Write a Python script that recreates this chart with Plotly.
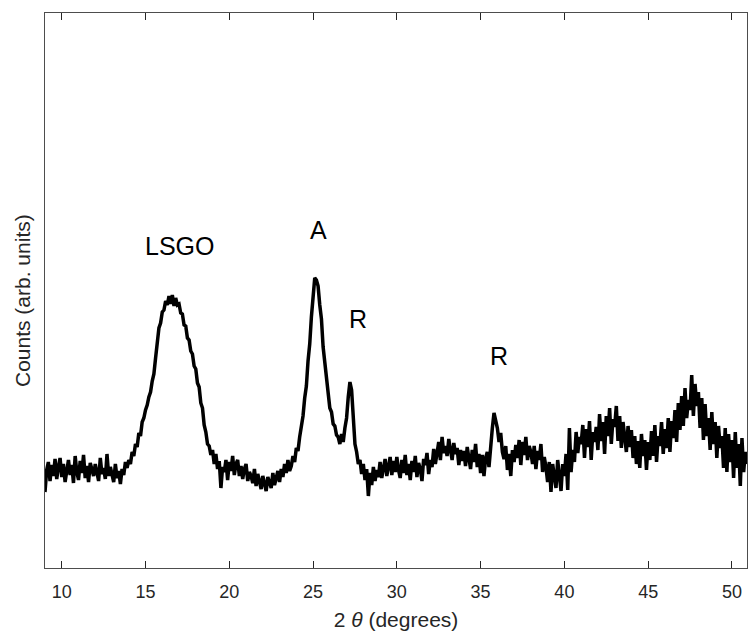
import plotly.graph_objects as go

# 2-theta grid start/step (degrees) and counts (arb. units)
two_theta_start = 9.0
two_theta_step = 0.1
counts = [
    76, 98, 106, 87, 103, 92, 109, 89, 101, 110,        # 9.x
    91, 104, 86, 99, 108, 93, 103, 85, 112, 96,         # 10.x
    88, 107, 95, 113, 90, 102, 86, 105, 98, 92,         # 11.x
    104, 96, 87, 110, 94, 100, 89, 114, 92, 101,        # 12.x
    95, 86, 104, 90, 97, 84, 99, 93, 106, 100,          # 13.x
    108, 104, 116, 112, 124, 121, 135, 132, 146, 150,   # 14.x
    158, 163, 171, 176, 187, 194, 210, 226, 240, 245,   # 15.x
    256, 258, 267, 263, 272, 264, 273, 262, 270, 263,   # 16.x
    264, 255, 254, 243, 242, 230, 228, 217, 214, 202,   # 17.x
    199, 185, 181, 165, 160, 143, 136, 124, 122, 113,   # 18.x
    118, 104, 114, 99, 107, 80, 101, 96, 108, 88,       # 19.x
    106, 97, 112, 93, 104, 108, 92, 102, 89, 99,        # 20.x
    104, 87, 96, 92, 85, 99, 82, 94, 88, 79,            # 21.x
    92, 84, 77, 91, 86, 80, 95, 83, 90, 97,             # 22.x
    86, 99, 91, 104, 95, 108, 97, 102, 112, 106,        # 23.x
    120, 117, 131, 140, 152, 170, 182, 207, 224, 251,   # 24.x
    268, 290, 288, 282, 263, 249, 221, 206, 184, 174,   # 25.x
    160, 156, 144, 142, 133, 131, 124, 134, 126, 140,   # 26.x
    150, 171, 186, 178, 152, 124, 116, 104, 108, 94,    # 27.x
    104, 88, 99, 72, 95, 83, 101, 87, 98, 91,           # 28.x
    106, 90, 100, 109, 92, 104, 111, 93, 107, 96,       # 29.x
    111, 98, 90, 108, 95, 113, 93, 104, 88, 107,        # 30.x
    96, 112, 91, 105, 99, 87, 109, 103, 115, 94,        # 31.x
    108, 101, 119, 104, 116, 126, 108, 131, 115, 122,   # 32.x
    112, 129, 118, 108, 125, 114, 120, 103, 118, 107,   # 33.x
    117, 102, 121, 110, 99, 118, 106, 124, 101, 114,    # 34.x
    95, 113, 92, 110, 116, 101, 126, 140, 155, 146,     # 35.x
    140, 126, 135, 116, 109, 122, 98, 114, 92, 118,     # 36.x
    106, 123, 110, 128, 103, 126, 113, 131, 108, 122,   # 37.x
    116, 104, 122, 99, 117, 108, 124, 96, 111, 101,     # 38.x
    86, 106, 76, 104, 94, 80, 108, 90, 77, 104,         # 39.x
    92, 114, 78, 140, 96, 118, 106, 136, 115, 131,      # 40.x
    124, 143, 110, 139, 121, 147, 108, 136, 126, 141,   # 41.x
    118, 154, 127, 146, 114, 152, 132, 160, 124, 149,   # 42.x
    141, 162, 127, 152, 120, 146, 134, 116, 142, 121,   # 43.x
    138, 110, 132, 104, 127, 100, 134, 112, 128, 98,    # 44.x
    126, 108, 137, 112, 143, 106, 132, 122, 146, 114,   # 45.x
    139, 120, 150, 116, 147, 130, 158, 126, 165, 138,   # 46.x
    172, 142, 180, 150, 168, 158, 193, 152, 184, 162,   # 47.x
    176, 140, 170, 128, 164, 132, 150, 118, 156, 124,   # 48.x
    146, 110, 142, 120, 132, 100, 140, 96, 134, 106,    # 49.x
    128, 90, 136, 100, 124, 82, 130, 96, 116, 104,      # 50.x
]
two_theta = [round(two_theta_start + i * two_theta_step, 2) for i in range(len(counts))]

# peak labels
label_text = ["LSGO", "A", "R", "R"]
label_x = [17.0, 25.3, 27.7, 36.1]
label_y = [322, 338, 249, 212]

AX = "#4d4d4d"
TXT = "#262626"
FONT = "Liberation Sans, Arial, Helvetica, sans-serif"

fig = go.Figure()
fig.add_trace(go.Scatter(
    x=two_theta, y=counts, mode="lines",
    line=dict(color="black", width=3.5),
    showlegend=False, hoverinfo="skip",
))

for t, x, y in zip(label_text, label_x, label_y):
    fig.add_annotation(x=x, y=y, text=t, showarrow=False,
                       font=dict(size=25, color="black", family=FONT),
                       xanchor="center", yanchor="middle")

fig.add_annotation(xref="paper", yref="paper", x=-0.032, y=0.482,
                   text="Counts (arb. units)", textangle=-90, showarrow=False,
                   font=dict(size=21, color=TXT, family=FONT),
                   xanchor="center", yanchor="middle")

fig.update_layout(
    width=748, height=633,
    margin=dict(l=45, r=1, t=13, b=65),
    paper_bgcolor="white", plot_bgcolor="white",
    font=dict(family=FONT, color=TXT),
    xaxis=dict(
        range=[9, 50.9], tickmode="array",
        tickvals=[10, 15, 20, 25, 30, 35, 40, 45, 50],
        ticks="inside", ticklen=7, tickwidth=1, tickcolor=TXT,
        showline=True, linecolor=AX, linewidth=1, mirror="allticks",
        showgrid=False, zeroline=False,
        tickfont=dict(size=18, color=TXT),
        ticklabelstandoff=7,
        title=dict(text="2 <i>θ</i> (degrees)", font=dict(size=21, color=TXT), standoff=11),
    ),
    yaxis=dict(
        range=[0, 555], showticklabels=False, ticks="",
        showline=True, linecolor=AX, linewidth=1, mirror=True,
        showgrid=False, zeroline=False,
    ),
)

fig.write_html(
    "out.html",
    config={"displayModeBar": False},
    post_script="document.body.style.margin='0';document.body.style.overflow='hidden';",
)
